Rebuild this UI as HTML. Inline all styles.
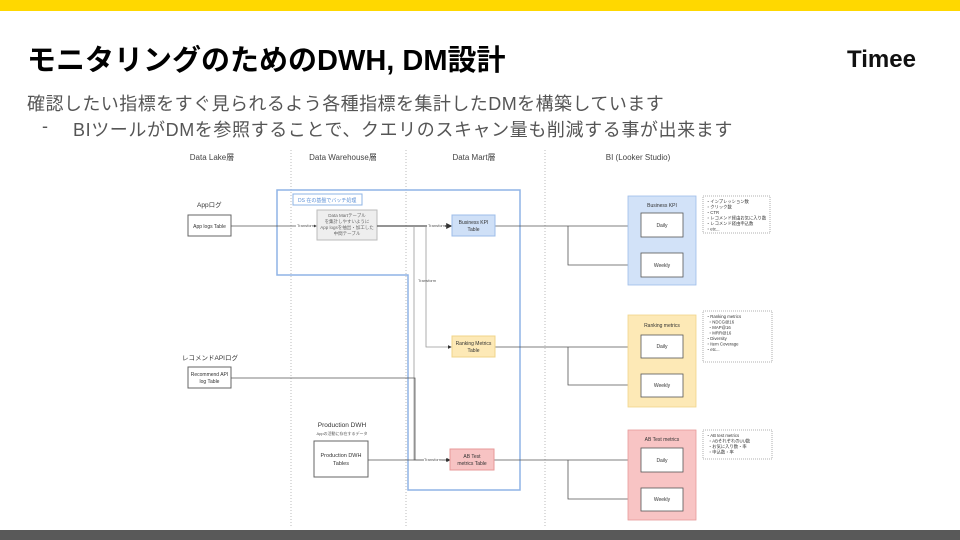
<!DOCTYPE html>
<html><head><meta charset="utf-8"><style>
body{margin:0;width:960px;height:540px;overflow:hidden;background:#fff;font-family:"Liberation Sans","Noto Sans CJK JP",sans-serif;position:relative}
.top{position:absolute;left:0;top:0;width:960px;height:11px;background:#ffd800}
.bot{position:absolute;left:0;top:530px;width:960px;height:10px;background:#595959}
.title{position:absolute;left:27px;top:37px;font-size:29px;font-weight:bold;color:#000;letter-spacing:0px}
.logo{position:absolute;left:847px;top:46px;font-size:24px;font-weight:bold;color:#111}
.t1{position:absolute;left:27px;top:90px;font-size:18px;color:#555;letter-spacing:0.45px}
.t2{position:absolute;left:42px;top:116px;font-size:18px;color:#555}
.t2 span{position:absolute;left:31px;white-space:nowrap;letter-spacing:0.6px}
svg{position:absolute;left:0;top:0}
svg text{font-family:"Liberation Sans","Noto Sans CJK JP",sans-serif}
</style></head><body>
<div class="top"></div>
<div class="title">モニタリングのためのDWH, DM設計</div>
<div class="logo">Timee</div>
<div class="t1">確認したい指標をすぐ見られるよう各種指標を集計したDMを構築しています</div>
<div class="t2">-<span>BIツールがDMを参照することで、クエリのスキャン量も削減する事が出来ます</span></div>
<svg width="960" height="540" viewBox="0 0 960 540">
<defs><marker id="a" markerWidth="5" markerHeight="5" refX="4" refY="2.5" orient="auto"><path d="M0,0L5,2.5L0,5z" fill="#333"/></marker></defs>
<g font-size="8" fill="#444" text-anchor="middle">
<text x="212" y="160">Data Lake層</text>
<text x="343" y="160">Data Warehouse層</text>
<text x="474" y="160">Data Mart層</text>
<text x="638" y="160">BI (Looker Studio)</text>
</g>
<g stroke="#bbb" stroke-width="1" stroke-dasharray="1,2">
<line x1="291" y1="150" x2="291" y2="526"/><line x1="406" y1="150" x2="406" y2="526"/><line x1="545" y1="150" x2="545" y2="526"/>
</g>
<path d="M277,190H520V490H408V275H277Z" fill="none" stroke="#8fb4e6" stroke-width="1.5"/>
<rect x="293" y="194" width="69" height="11" fill="#fff" stroke="#8fb4e6"/>
<text x="298" y="202" font-size="5" fill="#5a8fd6">DS 在の基盤でバッチ処理</text>
<text x="197" y="207" font-size="6.5" fill="#333">Appログ</text>
<rect x="188" y="215" width="43" height="21" fill="#fff" stroke="#666"/>
<text x="209.5" y="228" font-size="5" text-anchor="middle" fill="#333">App logs Table</text>
<text x="210" y="360" font-size="6.5" fill="#333" text-anchor="middle">レコメンドAPIログ</text>
<rect x="188" y="367" width="43" height="21" fill="#fff" stroke="#666"/>
<text x="209.5" y="376" font-size="5" text-anchor="middle" fill="#333">Recommend API</text>
<text x="209.5" y="383" font-size="5" text-anchor="middle" fill="#333">log Table</text>
<text x="342" y="427" font-size="6.5" fill="#333" text-anchor="middle">Production DWH</text>
<text x="342" y="435" font-size="4" fill="#555" text-anchor="middle">Appの活動に存在するデータ</text>
<rect x="314" y="441" width="54" height="36" fill="#fff" stroke="#666"/>
<text x="341" y="457" font-size="5.5" text-anchor="middle" fill="#333">Production DWH</text>
<text x="341" y="465" font-size="5.5" text-anchor="middle" fill="#333">Tables</text>
<rect x="317" y="210" width="60" height="30" fill="#eee" stroke="#bbb"/>
<g font-size="4.5" text-anchor="middle" fill="#666"><text x="347" y="217">Data Martテーブル</text><text x="347" y="223">を集計しやすいように</text><text x="347" y="229">App logsを抽出・加工した</text><text x="347" y="235">中間テーブル</text></g>
<g stroke="#555" stroke-width="0.8" fill="none">
<line x1="231" y1="226" x2="316" y2="226" marker-end="url(#a)"/>
<line x1="377" y1="226" x2="451" y2="226" marker-end="url(#a)" stroke-width="1.2"/>
<path d="M414,226V460H450" marker-end="url(#a)" stroke="#999"/>
<path d="M426,226V347H451" marker-end="url(#a)" stroke="#999"/>
<path d="M231,378H415V460"/>
<line x1="368" y1="460" x2="449" y2="460" marker-end="url(#a)"/>
<path d="M495,226H640" marker-end="url(#a)"/><path d="M568,226V265H640" marker-end="url(#a)"/>
<path d="M495,347H640" marker-end="url(#a)"/><path d="M568,347V385H640" marker-end="url(#a)"/>
<path d="M494,460H640" marker-end="url(#a)"/><path d="M568,460V499H640" marker-end="url(#a)"/>
</g>
<g font-size="4" fill="#555"><rect x="296" y="223" width="18" height="5" fill="#fff"/><text x="297" y="227">Transform</text>
<rect x="427" y="223" width="18" height="5" fill="#fff"/><text x="428" y="227">Transform</text>
<text x="418" y="282">Transform</text>
<rect x="424" y="457" width="18" height="5" fill="#fff"/><text x="424" y="461">Transform</text></g>
<rect x="452" y="215" width="43" height="21" fill="#cfe0f7" stroke="#9dbde8"/>
<text x="473.5" y="224" font-size="5" text-anchor="middle" fill="#333">Business KPI</text><text x="473.5" y="231" font-size="5" text-anchor="middle" fill="#333">Table</text>
<rect x="452" y="336" width="43" height="21" fill="#fde9b6" stroke="#f0d48a"/>
<text x="473.5" y="345" font-size="5" text-anchor="middle" fill="#333">Ranking Metrics</text><text x="473.5" y="352" font-size="5" text-anchor="middle" fill="#333">Table</text>
<rect x="450" y="449" width="44" height="21" fill="#f7c3c3" stroke="#e79a9a"/>
<text x="472" y="458" font-size="5" text-anchor="middle" fill="#333">AB Test</text><text x="472" y="465" font-size="5" text-anchor="middle" fill="#333">metrics Table</text>
<g stroke-width="0.8">
<rect x="628" y="196" width="68" height="89" fill="#d2e2f8" stroke="#9dbde8"/>
<rect x="628" y="315" width="68" height="92" fill="#fde9b6" stroke="#f0d48a"/>
<rect x="628" y="430" width="68" height="90" fill="#f8c4c4" stroke="#e79a9a"/>
<g fill="#fff" stroke="#555"><rect x="641" y="213" width="42" height="24"/><rect x="641" y="253" width="42" height="24"/>
<rect x="641" y="335" width="42" height="23"/><rect x="641" y="374" width="42" height="23"/>
<rect x="641" y="448" width="42" height="24"/><rect x="641" y="488" width="42" height="23"/></g>
<g fill="#fff" stroke="#999" stroke-dasharray="1,1"><rect x="703" y="196" width="67" height="37"/><rect x="703" y="311" width="69" height="51"/><rect x="703" y="430" width="69" height="29"/></g>
</g>
<g font-size="5" fill="#333" text-anchor="middle">
<text x="662" y="207">Business KPI</text><text x="662" y="227">Daily</text><text x="662" y="267">Weekly</text>
<text x="662" y="327">Ranking metrics</text><text x="662" y="348">Daily</text><text x="662" y="387">Weekly</text>
<text x="662" y="441">AB Test metrics</text><text x="662" y="462">Daily</text><text x="662" y="501">Weekly</text>
</g>
<g font-size="4.3" fill="#333">
<text x="706" y="203">・インプレッション数</text><text x="706" y="208.5">・クリック数</text><text x="706" y="214">・CTR</text><text x="706" y="219.5">・レコメンド経由お気に入り数</text><text x="706" y="225">・レコメンド経由申込数</text><text x="706" y="230.5">・etc...</text>
<text x="706" y="318">・Ranking metrics</text><text x="708" y="323.5">・NDCG@16</text><text x="708" y="329">・MAP@16</text><text x="708" y="334.5">・MRR@16</text><text x="706" y="340">・Diversity</text><text x="706" y="345.5">・Item Coverage</text><text x="706" y="351">・etc...</text>
<text x="706" y="437">・AB test metrics</text><text x="708" y="442.5">・ABそれぞれのUU数</text><text x="708" y="448">・お気に入り数・率</text><text x="708" y="453.5">・申込数・率</text>
</g>
</svg>
<div class="bot"></div>
</body></html>
